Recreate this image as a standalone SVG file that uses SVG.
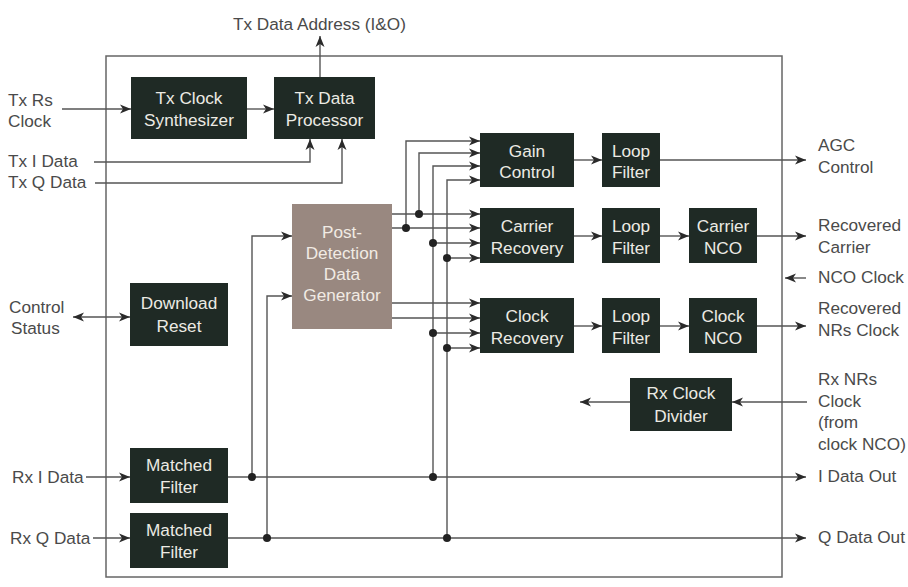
<svg xmlns="http://www.w3.org/2000/svg" width="908" height="587" viewBox="0 0 908 587">
<defs>
<marker id="ah" markerWidth="12" markerHeight="10" refX="11" refY="5" orient="auto-start-reverse" markerUnits="userSpaceOnUse">
<path d="M0,0.5 L11,5 L0,9.5 L3,5 z" fill="#2a2a2a"/>
</marker>
<style>
.bx{fill:#1f2a25}
.pd{fill:#998880}
.bt{font-family:"Liberation Sans",Arial,sans-serif;font-size:17.2px;fill:#ecebe4;text-anchor:middle}
.pt{font-family:"Liberation Sans",Arial,sans-serif;font-size:17.2px;fill:#f1ebe4;text-anchor:middle}
.lb{font-family:"Liberation Sans",Arial,sans-serif;font-size:17.2px;fill:#4a4a4a}
.ln{fill:none;stroke:#555;stroke-width:1.4}
.ar{marker-end:url(#ah)}
.dt{fill:#222}
</style>
</defs>
<rect width="908" height="587" fill="#ffffff"/>
<rect id="frame" x="106" y="56" width="676" height="521" fill="none" stroke="#666" stroke-width="1.5"/>

<g id="connectors">
<line class="ln ar" x1="320" y1="77" x2="320" y2="36"/>
<line class="ln ar" x1="62" y1="109" x2="131" y2="109"/>
<line class="ln ar" x1="247" y1="109" x2="274" y2="109"/>
<polyline class="ln ar" points="94,162 310,162 310,139"/>
<polyline class="ln ar" points="95,183 342,183 342,139"/>
<line class="ln" x1="73" y1="317" x2="130" y2="317" marker-start="url(#ah)" marker-end="url(#ah)"/>
<line class="ln ar" x1="86" y1="477" x2="130" y2="477"/>
<line class="ln ar" x1="93" y1="538" x2="130" y2="538"/>
<line class="ln ar" x1="228" y1="477" x2="806" y2="477"/>
<line class="ln ar" x1="228" y1="538" x2="806" y2="538"/>
<polyline class="ln ar" points="252,477 252,236 292,236"/>
<polyline class="ln ar" points="267,538 267,296 292,296"/>
<line class="ln ar" x1="392" y1="214" x2="480" y2="214"/>
<line class="ln ar" x1="392" y1="228" x2="480" y2="228"/>
<line class="ln ar" x1="392" y1="303" x2="480" y2="303"/>
<line class="ln ar" x1="392" y1="318" x2="480" y2="318"/>
<polyline class="ln ar" points="406,228 406,141 480,141"/>
<polyline class="ln ar" points="419,214 419,153 480,153"/>
<polyline class="ln ar" points="433,477 433,166 480,166"/>
<polyline class="ln ar" points="447,538 447,180 480,180"/>
<line class="ln ar" x1="433" y1="243" x2="480" y2="243"/>
<line class="ln ar" x1="447" y1="258" x2="480" y2="258"/>
<line class="ln ar" x1="433" y1="333" x2="480" y2="333"/>
<line class="ln ar" x1="447" y1="348" x2="480" y2="348"/>
<line class="ln ar" x1="574" y1="160" x2="602" y2="160"/>
<line class="ln ar" x1="660" y1="160" x2="806" y2="160"/>
<line class="ln ar" x1="574" y1="236" x2="602" y2="236"/>
<line class="ln ar" x1="660" y1="236" x2="689" y2="236"/>
<line class="ln ar" x1="757" y1="236" x2="806" y2="236"/>
<line class="ln ar" x1="574" y1="326" x2="602" y2="326"/>
<line class="ln ar" x1="660" y1="326" x2="689" y2="326"/>
<line class="ln ar" x1="757" y1="326" x2="806" y2="326"/>
<line class="ln ar" x1="806" y1="278" x2="785" y2="278"/>
<line class="ln ar" x1="807" y1="402" x2="732" y2="402"/>
<line class="ln ar" x1="630" y1="402" x2="580" y2="402"/>
<circle class="dt" cx="252" cy="477" r="4"/>
<circle class="dt" cx="267" cy="538" r="4"/>
<circle class="dt" cx="433" cy="477" r="4"/>
<circle class="dt" cx="447" cy="538" r="4"/>
<circle class="dt" cx="406" cy="228" r="4"/>
<circle class="dt" cx="419" cy="214" r="4"/>
<circle class="dt" cx="433" cy="243" r="4"/>
<circle class="dt" cx="447" cy="258" r="4"/>
<circle class="dt" cx="433" cy="333" r="4"/>
<circle class="dt" cx="447" cy="348" r="4"/>
</g>

<g id="tx-clock-synth"><rect class="bx" x="131" y="77" width="116" height="62"/><text class="bt" x="189" y="104">Tx Clock</text><text class="bt" x="189" y="126">Synthesizer</text></g>
<g id="tx-data-proc"><rect class="bx" x="274" y="77" width="101" height="62"/><text class="bt" x="324.5" y="104">Tx Data</text><text class="bt" x="324.5" y="126">Processor</text></g>
<g id="download-reset"><rect class="bx" x="130" y="283" width="98" height="63"/><text class="bt" x="179" y="309">Download</text><text class="bt" x="179" y="332">Reset</text></g>
<g id="post-detection"><rect class="pd" x="292" y="204" width="100" height="125"/><text class="pt" x="342" y="238">Post-</text><text class="pt" x="342" y="259">Detection</text><text class="pt" x="342" y="280">Data</text><text class="pt" x="342" y="301">Generator</text></g>
<g id="gain-control"><rect class="bx" x="480" y="133" width="94" height="54"/><text class="bt" x="527" y="157">Gain</text><text class="bt" x="527" y="178">Control</text></g>
<g id="loop-filter-1"><rect class="bx" x="602" y="133" width="58" height="54"/><text class="bt" x="631" y="157">Loop</text><text class="bt" x="631" y="178">Filter</text></g>
<g id="carrier-recovery"><rect class="bx" x="480" y="208" width="94" height="55"/><text class="bt" x="527" y="232">Carrier</text><text class="bt" x="527" y="254">Recovery</text></g>
<g id="loop-filter-2"><rect class="bx" x="602" y="208" width="58" height="55"/><text class="bt" x="631" y="232">Loop</text><text class="bt" x="631" y="254">Filter</text></g>
<g id="carrier-nco"><rect class="bx" x="689" y="208" width="68" height="55"/><text class="bt" x="723" y="232">Carrier</text><text class="bt" x="723" y="254">NCO</text></g>
<g id="clock-recovery"><rect class="bx" x="480" y="298" width="94" height="55"/><text class="bt" x="527" y="322">Clock</text><text class="bt" x="527" y="344">Recovery</text></g>
<g id="loop-filter-3"><rect class="bx" x="602" y="298" width="58" height="55"/><text class="bt" x="631" y="322">Loop</text><text class="bt" x="631" y="344">Filter</text></g>
<g id="clock-nco"><rect class="bx" x="689" y="298" width="68" height="55"/><text class="bt" x="723" y="322">Clock</text><text class="bt" x="723" y="344">NCO</text></g>
<g id="rx-clock-divider"><rect class="bx" x="630" y="378" width="102" height="53"/><text class="bt" x="681" y="399">Rx Clock</text><text class="bt" x="681" y="422">Divider</text></g>
<g id="matched-filter-i"><rect class="bx" x="130" y="448" width="98" height="55"/><text class="bt" x="179" y="471">Matched</text><text class="bt" x="179" y="493">Filter</text></g>
<g id="matched-filter-q"><rect class="bx" x="130" y="513" width="98" height="55"/><text class="bt" x="179" y="536">Matched</text><text class="bt" x="179" y="558">Filter</text></g>

<g id="labels">
<text class="lb" x="233" y="30">Tx Data Address (I&amp;O)</text>
<text class="lb" x="8" y="106">Tx Rs</text>
<text class="lb" x="8" y="127">Clock</text>
<text class="lb" x="8" y="167">Tx I Data</text>
<text class="lb" x="8" y="188">Tx Q Data</text>
<text class="lb" x="9" y="313">Control</text>
<text class="lb" x="11" y="334">Status</text>
<text class="lb" x="12" y="483">Rx I Data</text>
<text class="lb" x="10" y="544">Rx Q Data</text>
<text class="lb" x="818" y="151">AGC</text>
<text class="lb" x="818" y="173">Control</text>
<text class="lb" x="818" y="231">Recovered</text>
<text class="lb" x="818" y="253">Carrier</text>
<text class="lb" x="818" y="283">NCO Clock</text>
<text class="lb" x="818" y="314">Recovered</text>
<text class="lb" x="818" y="336">NRs Clock</text>
<text class="lb" x="818" y="385">Rx NRs</text>
<text class="lb" x="818" y="407">Clock</text>
<text class="lb" x="818" y="428">(from</text>
<text class="lb" x="818" y="450">clock NCO)</text>
<text class="lb" x="818" y="482">I Data Out</text>
<text class="lb" x="818" y="543">Q Data Out</text>
</g>
</svg>
